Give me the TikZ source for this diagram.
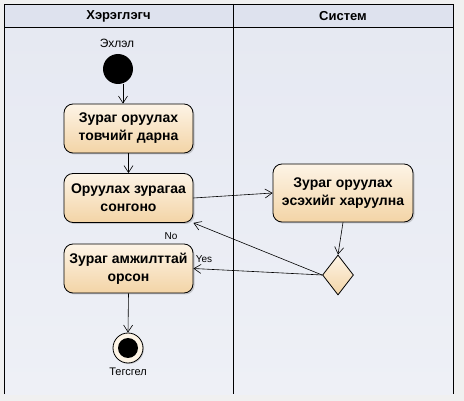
\documentclass[tikz,border=0pt]{standalone}
\usepackage{fontspec}
\setmainfont{Liberation Sans}
\usetikzlibrary{arrows.meta,shapes.geometric,shadows}
\definecolor{lanebg}{HTML}{E6E9F2}
\definecolor{lanebot}{HTML}{EEF0F6}
\definecolor{headbg}{HTML}{DEE2EE}
\definecolor{boxtop}{HTML}{FDF4E6}
\definecolor{boxbot}{HTML}{F3D4A6}
\tikzset{
  x=1pt,y=-1pt,
  actbox/.style={draw=black,line width=0.8pt,rounded corners=9pt,top color=boxtop,bottom color=boxbot,
    minimum width=129pt,minimum height=49pt,align=center,font=\bfseries\fontsize{14}{18}\selectfont,
    drop shadow={shadow xshift=1.5pt,shadow yshift=-1.5pt,opacity=0.35}},
  flow/.style={draw=black,line width=0.6pt,-{Straight Barb[length=7pt,width=9pt]}},
  lbl/.style={font=\fontsize{10}{12}\selectfont},
  biglbl/.style={font=\fontsize{12}{14}\selectfont},
  hdr/.style={font=\bfseries\fontsize{13}{15}\selectfont},
}
\begin{document}
\begin{tikzpicture}
\useasboundingbox (0,0) rectangle (464,401);
\fill[white!94!black] (0,0) rectangle (464,401);
% lanes
\shade[top color=lanebg,bottom color=lanebot] (4,27) rectangle (453,394);
\fill[headbg] (4,4) rectangle (453,27);
\draw[line width=0.8pt] (4,394) -- (4,4) -- (453,4) -- (453,394);
\draw[line width=0.8pt] (4,27) -- (453,27);
\draw[line width=0.8pt] (233,4) -- (233,394);
\node[hdr] (h1) at (118.5,16) {Хэрэглэгч};
\node[hdr] (h2) at (343,16) {Систем};
% start
\node[biglbl] (startlbl) at (117,43) {Эхлэл};
\node[circle,fill=black,minimum size=30pt,inner sep=0pt] (start) at (118,69) {};
% boxes
\node[actbox] (b1) at (128.5,128.5) {Зураг оруулах\\товчийг дарна};
\node[actbox] (b2) at (128.5,198) {Оруулах зурагаа\\сонгоно};
\node[actbox,minimum width=140pt,minimum height=58pt] (b3) at (343,193) {Зураг оруулах\\эсэхийг харуулна};
\node[actbox] (b4) at (128.5,268.5) {Зураг амжилттай\\орсон};
% decision
\node[diamond,draw=black,line width=0.8pt,top color=boxtop,bottom color=boxbot,minimum width=31pt,minimum height=40pt,inner sep=0pt,aspect=0.75] (d) at (338,275) {};
% end
\node[circle,draw=black,line width=0.8pt,fill=boxtop,minimum size=30pt,inner sep=0pt,
  drop shadow={shadow xshift=1pt,shadow yshift=-1pt,opacity=0.35}] (end) at (128,348) {};
\node[circle,fill=black,minimum size=20pt,inner sep=0pt] (endin) at (128,348) {};
\node[lbl,font=\fontsize{11}{13}\selectfont] (endlbl) at (128,372) {Тегсгел};
% flows
\coordinate (s0) at (123,84);
\draw[flow] (s0) -- (b1.north -| s0);
\draw[flow] (b1.south) -- (b2.north);
\draw[flow] (b2.east) -- (b3.west);
\draw[flow] (b3.south) -- (d.north);
\draw[flow] (d.west) -- (b2.south east);
\draw[flow] (d.west) -- (b4.east);
\draw[flow] (b4.south) -- (end.north);
\node[lbl] (no) at (171,236) {No};
\node[lbl] (yes) at (204,259) {Yes};
\end{tikzpicture}
\end{document}
